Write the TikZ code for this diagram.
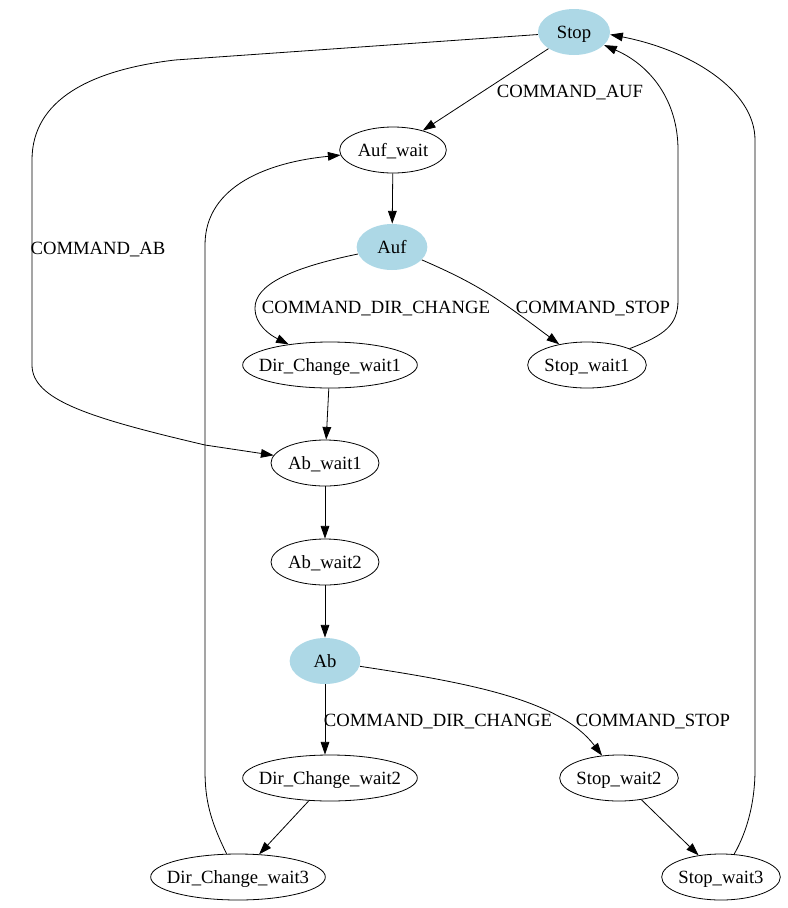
\documentclass[tikz,border=0pt]{standalone}
\usepackage{fontspec}
\setmainfont{Liberation Serif}
\usetikzlibrary{arrows.meta,shapes.geometric}
\definecolor{lightblue}{HTML}{ADD8E6}
\tikzstyle{state} = [ellipse, draw, line width=0.6pt, inner sep=-10pt, minimum height=34.5pt, text height=11pt, text depth=1.2pt, font=\fontsize{14}{16}\selectfont]
\tikzstyle{active} = [state, draw=none, fill=lightblue]
\tikzstyle{edgeLabel} = [inner sep=0pt, text height=11pt, text depth=1.2pt, font=\fontsize{14}{16}\selectfont]
\tikzstyle{trans} = [line width=0.6pt, -{Triangle[length=9.5pt,width=6.5pt]}]

\begin{document}
\begin{tikzpicture}[x=0.75pt,y=-0.75pt]
      \useasboundingbox (0,0) rectangle (788,908);
      \node[active, minimum width=54pt] (stop) at (574,32) {Stop};
      \node[state, minimum width=80pt] (aufWait) at (393,150) {Auf\_wait};
      \node[active, minimum width=53pt] (auf) at (392,247) {Auf};
      \node[state, minimum width=131pt] (dirWait1) at (330,365) {Dir\_Change\_wait1};
      \node[state, minimum width=89pt] (stopWait1) at (587,365) {Stop\_wait1};
      \node[state, minimum width=81pt] (abWait1) at (325,463) {Ab\_wait1};
      \node[state, minimum width=81pt] (abWait2) at (325,562) {Ab\_wait2};
      \node[active, minimum width=53pt] (ab) at (325,661) {Ab};
      \node[state, minimum width=131pt] (dirWait2) at (330,778) {Dir\_Change\_wait2};
      \node[state, minimum width=89pt] (stopWait2) at (619,778) {Stop\_wait2};
      \node[state, minimum width=131pt] (dirWait3) at (238,877) {Dir\_Change\_wait3};
      \node[state, minimum width=89pt] (stopWait3) at (721,877) {Stop\_wait3};
      \node[edgeLabel] (lblAuf) at (570,91) {COMMAND\_AUF};
      \node[edgeLabel] (lblAb) at (98,248) {COMMAND\_AB};
      \node[edgeLabel] (lblDir1) at (376,307) {COMMAND\_DIR\_CHANGE};
      \node[edgeLabel] (lblStop1) at (593,307) {COMMAND\_STOP};
      \node[edgeLabel] (lblDir2) at (438,720) {COMMAND\_DIR\_CHANGE};
      \node[edgeLabel] (lblStop2) at (653,720) {COMMAND\_STOP};
      \draw[trans] (stop) -- (aufWait);
      \draw[trans] (stop) -- (175,60) .. controls (90,70) and (32,100) .. (32,160) -- (32,365) .. controls (32,400) and (90,418) .. (205,445) -- (abWait1);
      \draw[trans] (aufWait) -- (auf);
      \draw[trans] (auf) .. controls (290,268) and (255,285) .. (255,308) .. controls (255,325) and (270,335) .. (dirWait1);
      \draw[trans] (auf) .. controls (480,285) and (500,300) .. (stopWait1);
      \draw[trans] (stopWait1) .. controls (665,335) and (678,325) .. (678,300) -- (678,150) .. controls (678,100) and (650,65) .. (stop);
      \draw[trans] (dirWait1) -- (abWait1);
      \draw[trans] (abWait1) -- (abWait2);
      \draw[trans] (abWait2) -- (ab);
      \draw[trans] (ab) -- (dirWait2.north -| ab);
      \draw[trans] (ab) .. controls (470,683) and (560,700) .. (stopWait2);
      \draw[trans] (dirWait2) -- (dirWait3);
      \draw[trans] (stopWait2) -- (stopWait3);
      \draw[trans] (dirWait3) .. controls (210,820) and (205,800) .. (205,770) -- (205,245) .. controls (205,185) and (270,162) .. (aufWait);
      \draw[trans] (stopWait3) .. controls (748,830) and (755,800) .. (755,770) -- (755,140) .. controls (755,90) and (690,50) .. (stop.-4);
    \end{tikzpicture}
\end{document}
